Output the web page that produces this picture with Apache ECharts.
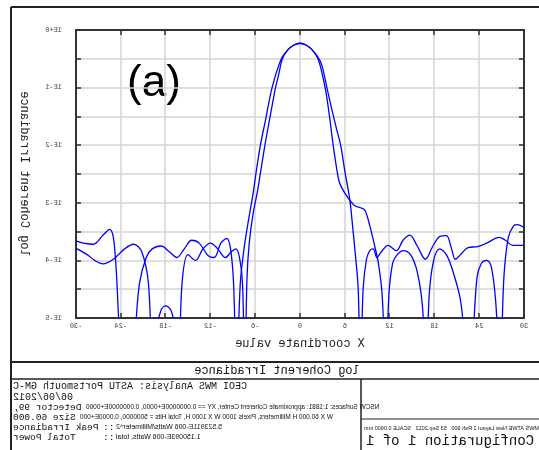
<!DOCTYPE html>
<html>
<head>
<meta charset="utf-8">
<script src="https://cdn.jsdelivr.net/npm/echarts@6/dist/echarts.min.js"></script>
<style>
html, body { margin: 0; padding: 0; background: #fff; }
/* the reference picture is a mirror image: lay the chart out mirrored and flip the div */
#main { width: 539px; height: 450px; transform: scaleX(-1); }
</style>
</head>
<body>
<div id="main"></div>
<script>
// [x coordinate, log10 irradiance]; values under -5 are nulls cut off by the axis
var curveA = [
  [-30,-3.79],[-28.5,-3.9],[-27.5,-4.0],[-26.4,-4.06],[-25,-3.98],[-23.5,-3.8],[-22.3,-3.72],
  [-21.2,-3.85],[-20.3,-4.4],[-19.7,-6],[-19.2,-5.2],[-18.6,-4.86],[-18,-4.79],[-17.3,-4.86],
  [-16.8,-5.15],[-16.3,-6],[-15.8,-4.4],[-15,-3.9],[-14,-4.0],[-13,-3.8],[-12,-3.7],[-11,-3.8],
  [-10,-3.95],[-9.2,-3.85],[-8.6,-3.8],[-8.1,-3.95],[-7.7,-4.4],[-7.4,-6],[-7.1,-4.3],[-6.8,-3.7],
  [-6.3,-3.2],[-5.7,-2.8],[-5.2,-2.4],[-4.66,-1.97],[-4.0,-1.5],[-3.28,-1.0],[-2.9,-0.8],
  [-2.36,-0.5],[-1.6,-0.34],[-0.8,-0.26],[0,-0.23],[0.8,-0.26],[1.6,-0.34],[2.4,-0.5],[3.0,-0.78],
  [3.5,-1.1],[4.0,-1.55],[4.44,-2.0],[4.9,-2.4],[5.24,-2.63],[5.6,-2.74],[6.45,-2.92],[7.34,-3.05],
  [8.2,-3.09],[8.7,-3.13],[9.35,-3.4],[10.0,-3.75],[10.5,-4.05],[11.0,-4.6],[11.5,-6],[11.9,-4.6],
  [12.4,-4.05],[12.9,-3.92],[13.8,-3.83],[14.8,-3.9],[15.7,-4.2],[16.4,-4.8],[16.9,-6],[17.3,-4.6],
  [17.9,-4.0],[18.7,-3.8],[19.6,-3.9],[20.5,-4.2],[21.5,-4.7],[22.2,-5.6],[22.7,-6],[23.1,-5.5],
  [23.7,-4.3],[24.3,-4.05],[25,-4.0],[25.6,-4.1],[26.2,-4.7],[26.8,-6],[27.3,-4.3],[27.9,-3.6],
  [28.6,-3.4],[29.1,-3.38],[30,-3.43]
];
var curveB = [
  [-30,-3.66],[-29,-3.7],[-27.7,-3.72],[-26.3,-3.55],[-25.5,-3.46],[-25.0,-3.6],[-24.6,-4.2],
  [-24.2,-5.2],[-23.6,-6],[-22.6,-6],[-22.1,-5.3],[-21.5,-4.4],[-20.6,-3.95],[-19.8,-3.8],
  [-18.6,-3.75],[-17.5,-3.85],[-16.5,-3.95],[-15.5,-3.8],[-14.5,-3.65],[-13.5,-3.7],[-12.3,-3.92],
  [-11.5,-3.95],[-10.6,-3.7],[-9.8,-3.62],[-9.3,-3.8],[-8.9,-4.4],[-8.5,-6],[-8.0,-4.4],[-7.5,-3.8],
  [-6.9,-3.3],[-6.3,-2.85],[-5.8,-2.4],[-5.26,-1.97],[-4.6,-1.55],[-3.74,-1.0],[-2.5,-0.5],
  [-1.6,-0.34],[-0.8,-0.26],[0,-0.23],[0.8,-0.26],[1.6,-0.34],[2.4,-0.47],[2.9,-0.6],[3.6,-1.0],
  [4.3,-1.4],[4.9,-1.72],[5.44,-2.0],[6.0,-2.45],[6.67,-2.95],[7.0,-3.35],[7.34,-3.8],[7.79,-4.49],
  [8.1,-6],[8.45,-4.5],[8.9,-3.98],[9.35,-3.83],[9.8,-3.8],[10.3,-3.95],[10.9,-3.85],[11.8,-3.74],
  [12.9,-3.83],[13.8,-3.65],[14.7,-3.56],[15.7,-3.75],[16.8,-3.98],[17.8,-3.75],[18.8,-3.58],
  [19.6,-3.57],[20.3,-3.8],[20.8,-3.98],[21.5,-3.9],[22.5,-3.78],[23.8,-3.76],[25,-3.7],
  [26.7,-3.6],[27.5,-3.65],[28.5,-3.74],[30,-3.74]
];
var xTicks = [-30, 30, 6];      // min, max, step
var yTicks = [-5, 0, 0.5];
var headerLines = ['CEOI MWS Analysis: ASTU Portsmouth GM-C', '06/06/2012'];
var infoLabels = ['Detector 99,', 'Size 60.000', 'Peak Irradiance', 'Total Power'];
var infoValues = [
  'NSCW Surfaces: 1:1881: approximate Coherent Center, XY == 0.0000000E+0000, 0.0000000E+0000',
  'W X 60.000 H Millimeters, Pixels 1000 W X 1000 H, Total Hits = 5000000, 0.0000E+000',
  '5.523911E-006 Watts/Millimeter^2',
  '1.150093E-006 Watts, total'
];
var stampLine = 'IOEC MWS ATWE New Layout 2 Rsh 900   53 Sep 2012   SCALE 0.0600 mm';

var W = 539;
function mx(x) { return W - x; }   // display x -> x before the flip
var mono = '"Liberation Mono", monospace';

function txt(x, y, s, font, align) {
  return { type: 'text', x: mx(x), y: y, silent: true,
    style: { text: s, font: font, fill: '#111', align: align || 'right', textAlign: align || 'right',
      verticalAlign: 'middle', textVerticalAlign: 'middle' } };
}
function seg(x1, y1, x2, y2, w) {
  return { type: 'line', silent: true, shape: { x1: mx(x1), y1: y1, x2: mx(x2), y2: y2 },
    style: { stroke: '#222', lineWidth: w } };
}

var gfx = [
  seg(11, 7, 545, 7, 2), seg(11, 7, 11, 455, 2),
  seg(11, 362, 545, 362, 2), seg(11, 379, 545, 379, 1.5),
  seg(361, 379, 361, 455, 1.5), seg(361, 419, 545, 419, 1.2),
  txt(277, 371, 'log Coherent Irradiance', '12px ' + mono, 'center'),
  txt(13, 386, headerLines[0], '10px ' + mono),
  txt(13, 397, headerLines[1], '10px ' + mono),
  txt(364, 428, stampLine, '5.5px "Liberation Sans"'),
  txt(366, 441, 'Configuration 1 of 1', '14px ' + mono)
];
var rowY = [407, 417, 427, 437];
var valX = [86, 80, 116, 116];
for (var i = 0; i < 4; i++) {
  gfx.push(txt(13, rowY[i], infoLabels[i], '9.5px ' + mono));
  if (i >= 2) gfx.push(txt(103, rowY[i], '::', '9.5px ' + mono));
  gfx.push(txt(valX[i], rowY[i], infoValues[i], (i < 2 ? '6.5px' : '7px') + ' "Liberation Sans"'));
}
// the panel letter is not mirrored in the reference, so flip it back
gfx.push({ type: 'text', x: mx(154), y: 84, scaleX: -1, silent: true,
  style: { text: '(a)', font: '44px "Liberation Sans", Arial', fill: '#000',
    align: 'center', textAlign: 'center', verticalAlign: 'middle', textVerticalAlign: 'middle' } });

function expLabel(v) {
  if (Math.abs(v - Math.round(v)) > 1e-6) return '';
  var n = Math.round(v);
  return '1E' + (n === 0 ? '+0' : String(n));
}

var frame = { lineStyle: { color: '#333', width: 2 }, onZero: false };
var ticks = { inside: true, length: 5, lineStyle: { color: '#333', width: 1.5 } };
var grid = { lineStyle: { color: '#d4d4d4', width: 1.5 } };
var labelFont = { fontSize: 7, color: '#444', fontFamily: mono };

var chart = echarts.init(document.getElementById('main'));
chart.setOption({
  animation: false,
  backgroundColor: '#fff',
  grid: { left: 15, right: 76, top: 30, bottom: 132 },
  xAxis: [
    { type: 'value', min: xTicks[0], max: xTicks[1], interval: xTicks[2], inverse: true,
      position: 'bottom', axisLine: frame, axisTick: ticks, splitLine: grid,
      axisLabel: Object.assign({ margin: 5 }, labelFont),
      name: 'X coordinate value', nameLocation: 'middle', nameGap: 20,
      nameTextStyle: { fontFamily: mono, fontSize: 12, color: '#222' } },
    { type: 'value', min: xTicks[0], max: xTicks[1], interval: xTicks[2], inverse: true,
      position: 'top', axisLine: frame, axisTick: ticks, splitLine: { show: false },
      axisLabel: { show: false } }
  ],
  yAxis: [
    { type: 'value', min: yTicks[0], max: yTicks[1], interval: yTicks[2], position: 'right',
      axisLine: frame, axisTick: ticks, splitLine: grid,
      axisLabel: Object.assign({ margin: 14, formatter: expLabel }, labelFont),
      name: 'log Coherent Irradiance', nameLocation: 'middle', nameGap: 46,
      nameTextStyle: { fontFamily: mono, fontSize: 12, color: '#222' } },
    { type: 'value', min: yTicks[0], max: yTicks[1], interval: yTicks[2], position: 'left',
      axisLine: frame, axisTick: ticks, splitLine: { show: false }, axisLabel: { show: false } }
  ],
  series: [
    { type: 'line', data: curveA, showSymbol: false, smooth: 0.35, clip: true, color: '#0000ff',
      lineStyle: { color: '#0000ff', width: 1.3 } },
    { type: 'line', data: curveB, showSymbol: false, smooth: 0.35, clip: true, color: '#0000ff',
      lineStyle: { color: '#0000ff', width: 1.3 } }
  ],
  graphic: gfx
});
</script>
</body>
</html>
